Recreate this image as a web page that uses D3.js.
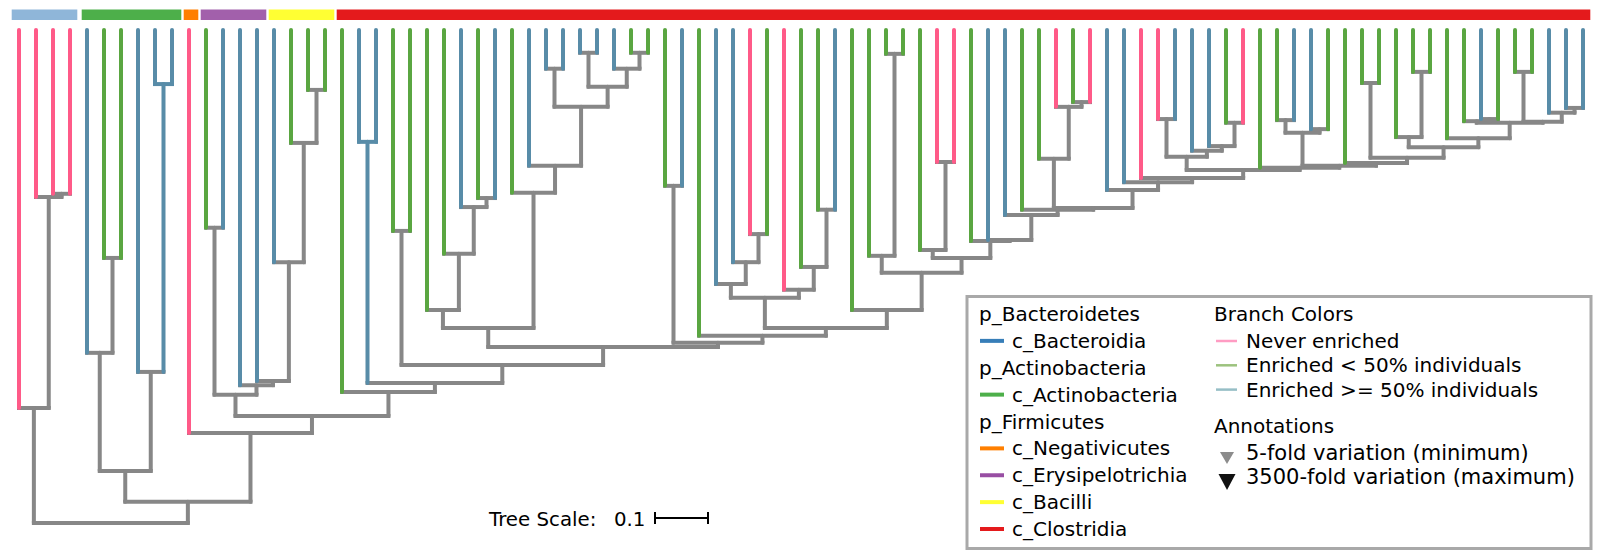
<!DOCTYPE html>
<html><head><meta charset="utf-8">
<script src="https://cdn.jsdelivr.net/npm/d3@7"></script>
<style>
body{margin:0;background:#fff}
svg{display:block}
text{font-family:"DejaVu Sans",sans-serif;fill:#000}
</style>
</head><body>
<svg id="chart" width="1604" height="552"></svg>
<script>
// ---------------- DATA ----------------
// enrichment class of each leaf, left to right: N = never enriched, L = enriched < 50%, H = enriched >= 50%
const leafEnrichment = ("PPPP" + "BGGBBB" + "P" + "GBBB" + "BGGG" +
  "GBBGGGGBGBGBBBBBBGGG" + "BGBBPGPGGBGGGGGPPGB" + "BGGPGPBBPPBBBGPGGB" + "BGGGGGGGGGBGGGBBB")
  .split("").map(c => ({P: "N", G: "L", B: "H"})[c]);

// taxonomic class of consecutive leaves (header strip)
const classNames  = ["c_Bacteroidia", "c_Actinobacteria", "c_Negativicutes", "c_Erysipelotrichia", "c_Bacilli", "c_Clostridia"];
const classCounts = [4, 6, 1, 4, 4, 74];

// tree topology (leaf indices) with node depth from the root (tree-scale units); "b" = coloured internal branch
const leafDepth = 0.930;
const cladeJ  = "((24,(25,(26,(27,28)0.613)0.596)0.508)0.402,(29,(30,((31,32)0.857,((33,34)0.887,(35,(36,37)0.887)0.857)0.823)0.785)0.674)0.623)0.368";
const cladeFF = "((67,68)0.762,(69,(70,(71,72)0.755)0.711)0.702)0.691";
const cladeGG = "(73,(((74,75)0.760,(76,77)0.743)0.736,(78,((79,80)0.830,((81,(82,83)0.851)0.728,(84,((85,(86,87)0.762)0.758,((88,89)0.851,(90,(91,92)0.783)0.774)0.757)0.755)0.726)0.709)0.689)0.679)0.674)0.670";
const cladeZ  = "(58,(59,((60,(61,(62,63)0.794)0.785)0.687,(64,(65,(66,(FF,GG)0.666)0.651)0.643)0.628)0.594)0.591)0.581";
const cladeN  = "((38,39)0.636,(40,(((41,(42,(43,44)0.545)0.492)0.451,(45,(46,(47,48)0.591)0.483)0.440)0.425,(49,((50,(51,52)0.885)0.504,((53,(54,55)0.681)0.515,(56,(57,Z)0.534)0.532)0.500)0.472)0.402)0.368)0.353)0.340";
const treeTemplate = "((0,(1,(2,3)0.621)0.615)0.217,(((4,(5,6)0.500)0.321,(7,(8,9)0.828b)0.285)0.098,(10,(((11,12)0.557,(13,(14,(15,(16,(17,18)0.817)0.717)0.492)0.268)0.260)0.242,(19,((20,21)0.719b,((22,23)0.551,(J,N)0.332)0.298)0.264)0.247)0.202)0.170)0.040)0";

const scaleValue = 0.1;

const phylumLegend = [
  {label: "p_Bacteroidetes"}, {label: "c_Bacteroidia", color: "#377eb8"},
  {label: "p_Actinobacteria"}, {label: "c_Actinobacteria", color: "#4daf4a"},
  {label: "p_Firmicutes"}, {label: "c_Negativicutes", color: "#ff7f00"},
  {label: "c_Erysipelotrichia", color: "#984ea3"}, {label: "c_Bacilli", color: "#ffff33"},
  {label: "c_Clostridia", color: "#e41a1c"}
];
const branchLegend = ["Never enriched", "Enriched < 50% individuals", "Enriched >= 50% individuals"];
const annotationLegend = ["5-fold variation (minimum)", "3500-fold variation (maximum)"];

// ---------------- STYLE ----------------
const enrichColor = {N: "#ff5a88", L: "#5aa641", H: "#588ca8"};
const enrichLegendColor = {N: "#ff9cc3", L: "#9cc27e", H: "#96bec6"};
const headerColor = {"c_Bacteroidia": "#8fb6d9", "c_Actinobacteria": "#4daf4a", "c_Negativicutes": "#ff7f00",
  "c_Erysipelotrichia": "#a260ab", "c_Bacilli": "#ffff33", "c_Clostridia": "#e41a1c"};
const gray = "#878787";

// ---------------- BUILD TREE ----------------
const treeString = treeTemplate.replace("J", cladeJ).replace("N", cladeN)
  .replace("Z", cladeZ).replace("FF", cladeFF).replace("GG", cladeGG);

function parseTree(s) {
  let i = 0;
  function node() {
    if (s[i] === "(") {
      i++;
      const children = [node()];
      while (s[i] === ",") { i++; children.push(node()); }
      i++;
      const m = /^([0-9.]+)(b?)/.exec(s.slice(i));
      i += m[0].length;
      return {children, depth: +m[1], colored: m[2] === "b"};
    }
    const m = /^\d+/.exec(s.slice(i));
    i += m[0].length;
    return {leaf: +m[0]};
  }
  return node();
}

const root = d3.hierarchy(parseTree(treeString));
const nLeaves = leafEnrichment.length;

const x = d3.scaleLinear().domain([0, nLeaves - 1]).range([19, 1583]);
const y = d3.scaleLinear().domain([0, leafDepth]).range([523, 30]);

root.eachAfter(n => {
  if (n.children) {
    n.px = (n.children[0].px + n.children[n.children.length - 1].px) / 2;
    n.py = y(n.data.depth);
    n.color = n.data.colored ? enrichColor[leafEnrichment[n.leaves()[0].data.leaf]] : gray;
  } else {
    n.px = x(n.data.leaf);
    n.py = y(leafDepth);
    n.color = enrichColor[leafEnrichment[n.data.leaf]];
  }
});

const svg = d3.select("#chart");
const g = svg.append("g");

// header strip
let start = 0;
const header = classNames.map((c, k) => { const r = {name: c, from: start, to: start + classCounts[k] - 1}; start += classCounts[k]; return r; });
const half = (x(1) - x(0)) / 2;
svg.append("g").selectAll("rect").data(header).join("rect")
  .attr("x", d => x(d.from) - half + 1.2 + (d.from > 0 ? 2 : 0))
  .attr("width", d => x(d.to) - x(d.from) + 2 * half - 2.4 - (d.from > 0 ? 2 : 0) + (d.from > 0 && d.to < nLeaves - 1 ? 2 : 0))
  .attr("y", 9.5).attr("height", 10.5)
  .attr("fill", d => headerColor[d.name]);

// horizontal bars (internal nodes)
const internals = root.descendants().filter(n => n.children);
g.append("g").selectAll("line").data(internals).join("line")
  .attr("x1", n => n.children[0].px).attr("x2", n => n.children[n.children.length - 1].px)
  .attr("y1", n => n.py).attr("y2", n => n.py)
  .attr("stroke", n => n.color).attr("stroke-width", 4).attr("stroke-linecap", "square");

// vertical stems
const links = root.links().sort((a, b) => (a.target.color === gray ? 0 : 1) - (b.target.color === gray ? 0 : 1));
g.append("g").selectAll("line").data(links).join("line")
  .attr("x1", l => l.target.px).attr("x2", l => l.target.px)
  .attr("y1", l => l.source.py).attr("y2", l => l.target.py)
  .attr("stroke", l => l.target.color).attr("stroke-width", 4).attr("stroke-linecap", "round");

// tree scale
const scaleLen = y(0) - y(scaleValue);
const ts = svg.append("g");
ts.append("text").attr("x", 489).attr("y", 526).style("font-size", "19.8px").text("Tree Scale:");
ts.append("text").attr("x", 614).attr("y", 526).style("font-size", "19.8px").text(String(scaleValue));
const bx = 655, by = 518;
ts.append("line").attr("x1", bx).attr("x2", bx + scaleLen).attr("y1", by).attr("y2", by).attr("stroke", "#000").attr("stroke-width", 2);
[bx, bx + scaleLen].forEach(v => ts.append("line").attr("x1", v).attr("x2", v).attr("y1", by - 6).attr("y2", by + 6).attr("stroke", "#000").attr("stroke-width", 2));

// legend
const lg = svg.append("g");
lg.append("rect").attr("x", 967).attr("y", 296.5).attr("width", 624).attr("height", 252)
  .attr("fill", "#fff").attr("stroke", "#a9a9a9").attr("stroke-width", 3);
const fs = "20px";
const rowY = d3.scaleLinear().domain([0, phylumLegend.length - 1]).range([321, 536]);
phylumLegend.forEach((d, k) => {
  const yy = rowY(k);
  if (d.color) {
    lg.append("line").attr("x1", 980).attr("x2", 1004).attr("y1", yy - 7).attr("y2", yy - 7)
      .attr("stroke", d.color).attr("stroke-width", 4);
    lg.append("text").attr("x", 1012).attr("y", yy).style("font-size", fs).text(d.label);
  } else {
    lg.append("text").attr("x", 979).attr("y", yy).style("font-size", fs).text(d.label);
  }
});
lg.append("text").attr("x", 1214).attr("y", 321).style("font-size", fs).text("Branch Colors");
const bKeys = ["N", "L", "H"];
branchLegend.forEach((t, k) => {
  const yy = 348 + k * 24.3;
  lg.append("line").attr("x1", 1216).attr("x2", 1237).attr("y1", yy - 7).attr("y2", yy - 7)
    .attr("stroke", enrichLegendColor[bKeys[k]]).attr("stroke-width", 2.5);
  lg.append("text").attr("x", 1246).attr("y", yy).style("font-size", fs).text(t);
});
lg.append("text").attr("x", 1214).attr("y", 433).style("font-size", fs).text("Annotations");
const triSize = [{w: 14, h: 12, c: "#8c8c8c"}, {w: 17, h: 16, c: "#111"}];
annotationLegend.forEach((t, k) => {
  const yy = 460 + k * 24;
  const s = triSize[k], cx = 1227, cy = yy - 2;
  lg.append("path").attr("d", `M${cx - s.w / 2},${cy - s.h / 2}L${cx + s.w / 2},${cy - s.h / 2}L${cx},${cy + s.h / 2}Z`).attr("fill", s.c);
  lg.append("text").attr("x", 1246).attr("y", yy).style("font-size", "21px").text(t);
});
</script>
</body></html>
